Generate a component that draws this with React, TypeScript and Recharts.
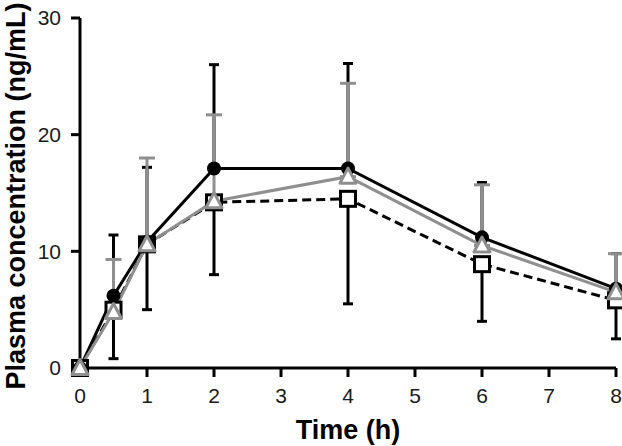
import { LineChart, Line, XAxis, YAxis, ErrorBar } from 'recharts';

const times = [0, 0.5, 1, 2, 4, 6, 8];
const circleMean = [0, 6.2, 10.8, 17.1, 17.1, 11.2, 6.8];
const circleUp = [0, 5.2, 6.4, 8.9, 9.0, 4.7, 3.0];
const squareMean = [0, 5.0, 10.6, 14.2, 14.5, 8.9, 5.8];
const squareDown = [0, 4.2, 5.6, 6.2, 9.0, 4.9, 3.3];
const triMean = [0, 4.8, 10.6, 14.3, 16.4, 10.5, 6.5];
const triUp = [0, 4.5, 7.4, 7.4, 8.0, 5.2, 3.3];
const xTicks = [0, 1, 2, 3, 4, 5, 6, 7, 8];
const yTicks = [0, 10, 20, 30];

const data = times.map((t, i) => ({
  t,
  circle: circleMean[i],
  circleErr: [0, circleUp[i]],
  square: squareMean[i],
  squareErr: [squareDown[i], 0],
  tri: triMean[i],
  triErr: [0, triUp[i]],
}));

const GRAY = '#8f8f8f';
const font = '"Liberation Sans", Arial, sans-serif';

const CircleDot = (p: any) => <circle cx={p.cx} cy={p.cy} r={7} fill="#000" />;
const SquareDot = (p: any) => (
  <rect x={p.cx - 7.5} y={p.cy - 7.5} width={15} height={15} fill="#fff" stroke="#000" strokeWidth={3} />
);
const TriDot = (p: any) => (
  <path
    d={`M${p.cx},${p.cy - 8.5} L${p.cx + 8},${p.cy + 6.5} L${p.cx - 8},${p.cy + 6.5} Z`}
    fill="#fff"
    stroke={GRAY}
    strokeWidth={3}
    strokeLinejoin="round"
  />
);

export default function App() {
  return (
    <div style={{ position: 'absolute', left: 0, top: 0, background: '#fff' }}>
      <LineChart width={622} height={446} data={data} margin={{ top: 18, right: 6, left: 0, bottom: 0 }}>
        <XAxis
          dataKey="t"
          type="number"
          domain={[0, 8]}
          ticks={xTicks}
          height={78}
          axisLine={{ stroke: '#000', strokeWidth: 3 }}
          tickLine={{ stroke: '#000', strokeWidth: 3 }}
          tickSize={9}
          tickMargin={11}
          tick={{ fill: '#1a1a1a', fontSize: 21, fontFamily: font }}
          label={{
            content: (props: any) => {
              const vb = props.viewBox;
              return (
                <text
                  x={vb.x + vb.width / 2}
                  y={vb.y + 71}
                  textAnchor="middle"
                  fontSize={27}
                  fontWeight="bold"
                  fontFamily={font}
                  fill="#000"
                >
                  Time (h)
                </text>
              );
            },
          }}
        />
        <YAxis
          type="number"
          domain={[0, 30]}
          ticks={yTicks}
          width={80}
          axisLine={{ stroke: '#000', strokeWidth: 3 }}
          tickLine={{ stroke: '#000', strokeWidth: 3 }}
          tickSize={9}
          tickMargin={10}
          tick={{ fill: '#1a1a1a', fontSize: 21, fontFamily: font }}
          label={{
            content: (props: any) => {
              const vb = props.viewBox;
              const cx = vb.x + 25;
              const cy = vb.y + vb.height / 2 + 3;
              return (
                <text
                  x={cx}
                  y={cy}
                  transform={`rotate(-90, ${cx}, ${cy})`}
                  textAnchor="middle"
                  fontSize={27}
                  fontWeight="bold"
                  fontFamily={font}
                  fill="#000"
                >
                  Plasma concentration (ng/mL)
                </text>
              );
            },
          }}
        />
        <Line
          dataKey="square"
          stroke="#000"
          strokeWidth={3}
          strokeDasharray="9 5"
          dot={<SquareDot />}
          isAnimationActive={false}
        >
          <ErrorBar dataKey="squareErr" direction="y" width={5} stroke="#000" strokeWidth={3} />
        </Line>
        <Line dataKey="circle" stroke="#000" strokeWidth={3} dot={<CircleDot />} isAnimationActive={false}>
          <ErrorBar dataKey="circleErr" direction="y" width={5} stroke="#000" strokeWidth={3} />
        </Line>
        <Line dataKey="tri" stroke={GRAY} strokeWidth={3} dot={<TriDot />} isAnimationActive={false}>
          <ErrorBar dataKey="triErr" direction="y" width={8} stroke={GRAY} strokeWidth={3} />
        </Line>
      </LineChart>
    </div>
  );
}
